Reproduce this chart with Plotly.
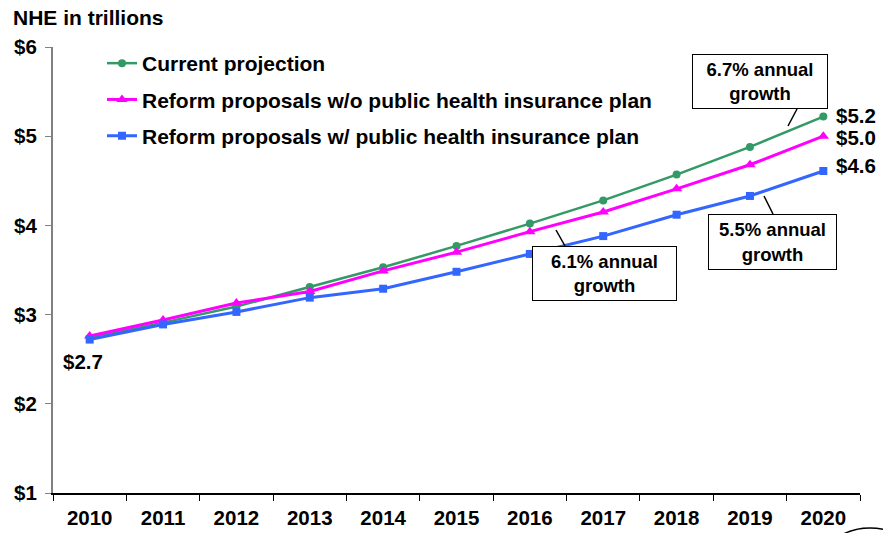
import plotly.graph_objects as go

# National health expenditure projections, trillions of dollars
years = ["2010", "2011", "2012", "2013", "2014", "2015", "2016", "2017", "2018", "2019", "2020"]
current = [2.74, 2.91, 3.09, 3.31, 3.53, 3.77, 4.02, 4.28, 4.57, 4.88, 5.22]
reform_no_public = [2.76, 2.94, 3.13, 3.26, 3.49, 3.70, 3.93, 4.15, 4.41, 4.68, 5.00]
reform_public = [2.72, 2.89, 3.03, 3.19, 3.29, 3.48, 3.68, 3.88, 4.12, 4.33, 4.61]

series_names = [
    "Current projection",
    "Reform proposals w/o public health insurance plan",
    "Reform proposals w/ public health insurance plan",
]
y_ticks = [1, 2, 3, 4, 5, 6]
y_tick_text = ["$1", "$2", "$3", "$4", "$5", "$6"]
growth_notes = ["6.7% annual<br>growth", "6.1% annual<br>growth", "5.5% annual<br>growth"]

FONT = "Liberation Sans, Arial, sans-serif"
GREEN = "#339966"
MAGENTA = "#FF00FF"
BLUE = "#3366FF"
TXT = 20.5

fig = go.Figure()
styles = [
    (current, GREEN, "circle", 8, 2.5),
    (reform_no_public, MAGENTA, "triangle-up", 10, 3),
    (reform_public, BLUE, "square", 8, 3),
]
for i, ((vals, color, sym, msize, lw), name) in enumerate(zip(styles, series_names)):
    fig.add_trace(go.Scatter(
        x=years, y=vals, name=f"<b>{name}</b>", mode="lines+markers",
        line=dict(color=color, width=lw),
        marker=dict(symbol=sym, size=msize, color=color),
        legendgroup=f"g{i}",
    ))

# Paper-coordinate helpers for the plot area (53..860 px wide, 47..493 px tall)
L, R, T, B = 53, 860, 47, 493
def px(x):
    return (x - L) / (R - L)
def py(y):
    return (B - y) / (B - T)

annotations = []
# Axis title in the top-left corner
annotations.append(dict(
    text="<b>NHE in trillions</b>", xref="paper", yref="paper",
    x=px(11), y=py(17), xanchor="left", yanchor="middle", showarrow=False,
    font=dict(family=FONT, size=21, color="black"),
))

# End-point value labels (category index used for x position)
last = len(years) - 1
for vals, dy in [(current, -1), (reform_no_public, 1), (reform_public, -5)]:
    annotations.append(dict(
        text=f"<b>${vals[-1]:.1f}</b>", x=last, y=vals[-1], xref="x", yref="y",
        xanchor="left", yanchor="middle", xshift=12, yshift=-dy, showarrow=False,
        height=19, borderpad=0,
        font=dict(family=FONT, size=TXT, color="black"),
    ))
# Starting value label
annotations.append(dict(
    text=f"<b>${reform_public[0]:.1f}</b>", x=0, y=reform_public[0], xref="x", yref="y",
    xanchor="center", yanchor="middle", xshift=-7, yshift=-22, showarrow=False,
    font=dict(family=FONT, size=TXT, color="black"),
))

# Growth-rate callout boxes: (left, top, right, bottom) in pixels
boxes = [(692, 54, 828, 109), (532, 246, 677, 301), (708, 214, 837, 270)]
for note, (x0, y0, x1, y1) in zip(growth_notes, boxes):
    annotations.append(dict(
        text=f"<b>{note}</b>", xref="paper", yref="paper",
        x=px((x0 + x1) / 2), y=py((y0 + y1) / 2), xanchor="center", yanchor="middle",
        width=x1 - x0 - 4, height=y1 - y0 - 4, borderpad=1, borderwidth=1,
        bordercolor="black", bgcolor="white", showarrow=False,
        font=dict(family=FONT, size=18.5, color="black"),
    ))

# Leader lines from callouts to the series
leaders = [((797, 109), (788, 126)), ((556, 230), (565, 246)), ((764, 196), (773, 214))]
shapes = []
for (xa, ya), (xb, yb) in leaders:
    shapes.append(dict(type="line", xref="paper", yref="paper",
                       x0=px(xa), y0=py(ya), x1=px(xb), y1=py(yb),
                       line=dict(color="black", width=1.5)))
# Partial oval in the bottom-right corner
shapes.append(dict(type="circle", xref="paper", yref="paper",
                   x0=px(820), x1=px(920), y0=py(608), y1=py(528),
                   line=dict(color="black", width=1.5)))

fig.update_layout(
    width=883, height=533,
    margin=dict(l=L, r=883 - R, t=T, b=533 - B, autoexpand=False),
    paper_bgcolor="white", plot_bgcolor="white",
    font=dict(family=FONT, size=TXT, color="black"),
    showlegend=True,
    legend=dict(
        x=px(102), y=py(43), xanchor="left", yanchor="top",
        bgcolor="rgba(0,0,0,0)", borderwidth=0,
        font=dict(family=FONT, size=21, color="black"),
        tracegroupgap=6, itemwidth=30,
    ),
    annotations=annotations,
    shapes=shapes,
)
fig.update_xaxes(
    type="category", range=[-0.5, 10.5], automargin=False,
    tickson="boundaries", ticks="outside", ticklen=6, tickcolor="black",
    showline=True, linecolor="black", linewidth=1.5, showgrid=False, zeroline=False,
    tickfont=dict(family=FONT, size=TXT, color="black"),
    tickprefix="<b>", ticksuffix="</b>", ticklabelstandoff=6,
)
fig.update_yaxes(
    range=[1, 6], tickvals=y_ticks, ticktext=[f"<b>{t}</b>" for t in y_tick_text],
    automargin=False,
    ticks="outside", ticklen=6, tickcolor="#808080",
    showline=True, linecolor="#808080", linewidth=2, showgrid=False, zeroline=False,
    tickfont=dict(family=FONT, size=TXT, color="black"), ticklabelstandoff=4,
)

fig.write_html("out.html")
